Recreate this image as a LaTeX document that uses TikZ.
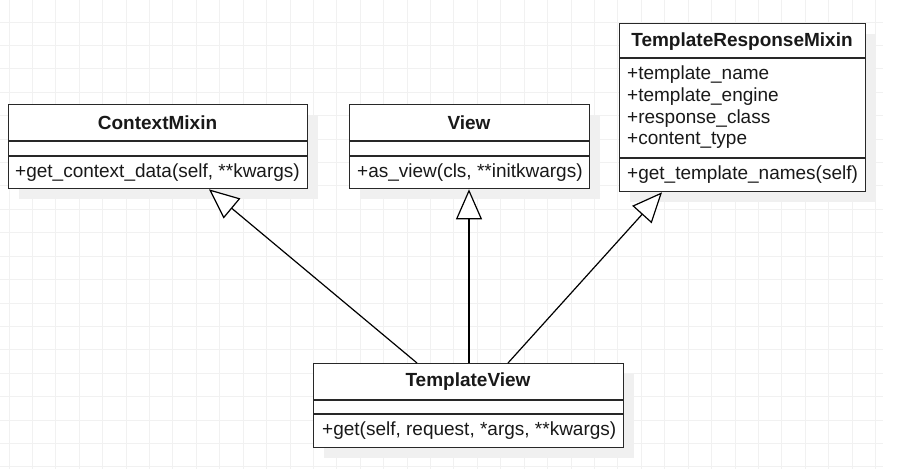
\documentclass[tikz,border=0pt]{standalone}
\usepackage{fontspec}
\setmainfont{Liberation Sans}
\usetikzlibrary{arrows.meta,calc,shadows}
\definecolor{gridc}{RGB}{241,241,241}
\definecolor{shadowc}{RGB}{240,240,240}
\definecolor{linec}{RGB}{40,40,40}
\begin{document}
\begin{tikzpicture}[x=1pt,y=-1pt,
  umlbox/.style={draw=linec, line width=1.3pt, fill=white, inner sep=0pt, anchor=north west,
    general shadow={fill=shadowc, shadow xshift=10pt, shadow yshift=-10pt}},
  divider/.style={draw=linec, line width=1.3pt},
  title/.style={inner sep=0pt, font=\fontsize{19}{22}\selectfont\bfseries, text=black!90},
  member/.style={inner sep=0pt, anchor=west, font=\fontsize{19}{22}\selectfont, text=black!90},
  inherit/.style={draw=black, line width=1.2pt, -{Triangle[open, fill=white, length=30pt, width=26pt, line width=1.2pt]}}
]
\useasboundingbox (0,0) rectangle (903,469);
% grid
\foreach \k in {0,...,37} \draw[gridc, line width=1pt] (9+23.42*\k,0) -- (9+23.42*\k,469);
\foreach \k in {0,...,19} \draw[gridc, line width=1pt] (0,22+23.42*\k) -- (883,22+23.42*\k);

% ContextMixin
\node[umlbox, minimum width=299pt, minimum height=84pt] (cm) at (8,104) {};
\draw[divider] (8,141) -- (307,141);
\draw[divider] (8,156) -- (307,156);
\node[title] (cmT) at (157.5,123) {ContextMixin};
\node[member] (cmM) at (15,173) {+get\_context\_data(self, **kwargs)};

% View
\node[umlbox, minimum width=240pt, minimum height=84pt] (vw) at (349,104) {};
\draw[divider] (349,141) -- (589,141);
\draw[divider] (349,156) -- (589,156);
\node[title] (vwT) at (469,123) {View};
\node[member] (vwM) at (357,173) {+as\_view(cls, **initkwargs)};

% TemplateResponseMixin
\node[umlbox, minimum width=246pt, minimum height=168pt] (trm) at (619,23) {};
\draw[divider] (619,58) -- (865,58);
\draw[divider] (619,158) -- (865,158);
\node[title] (trmT) at (742,42) {TemplateResponseMixin};
\node[member] (trmA1) at (627,75) {+template\_name};
\node[member] (trmA2) at (627,97) {+template\_engine};
\node[member] (trmA3) at (627,119) {+response\_class};
\node[member] (trmA4) at (627,140) {+content\_type};
\node[member] (trmM) at (627,175) {+get\_template\_names(self)};

% TemplateView
\node[umlbox, minimum width=310pt, minimum height=84pt] (tv) at (313,363) {};
\draw[divider] (313,400) -- (623,400);
\draw[divider] (313,414) -- (623,414);
\node[title] (tvT) at (468,382) {TemplateView};
\node[member] (tvM) at (322,431) {+get(self, request, *args, **kwargs)};

% connectors
\draw[inherit] ($(tv.north west)+(104,0)$) -- ($(cm.south west)+(201,0)$);
\draw[inherit] ($(tv.north west)+(156,0)$) -- ($(vw.south west)+(120,0)$);
\draw[inherit] ($(tv.north west)+(195,0)$) -- ($(trm.south west)+(43,0)$);
\end{tikzpicture}
\end{document}
